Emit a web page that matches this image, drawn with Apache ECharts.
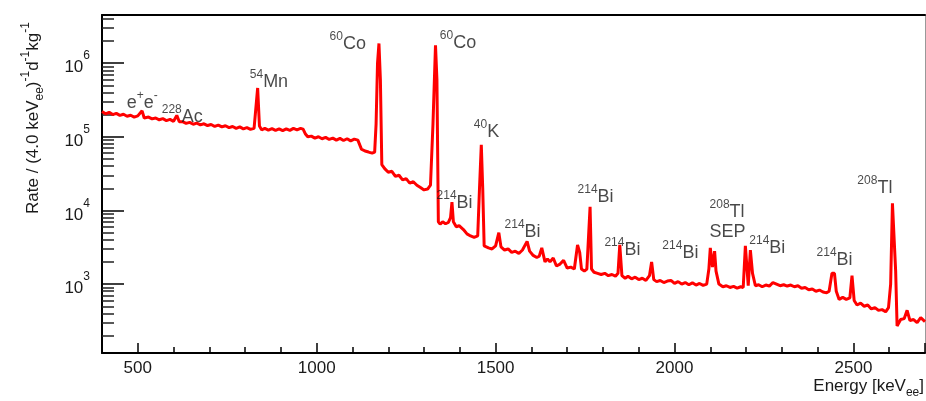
<!DOCTYPE html>
<html>
<head>
<meta charset="utf-8">
<script src="https://cdn.jsdelivr.net/npm/echarts@6/dist/echarts.min.js"></script>
<style>
  body { margin: 0; }
  #wrap { position: relative; width: 926px; height: 401px; }
  #frame, #plot, #text { position: absolute; left: 0; top: 0; width: 926px; height: 401px; }
</style>
</head>
<body>
<div id="wrap"><div id="frame"></div><div id="plot"></div><div id="text"></div></div>
<script>
// spectrum, energy in keV_ee, rate per 4 keV bin
var energy = [
  400, 410, 420, 430, 440, 450, 460, 470, 480, 490, 500, 505, 512, 518, 530, 540, 550, 560, 570, 580,
  590, 600, 609, 616, 625, 635, 645, 655, 665, 675, 685, 695, 705, 715, 725, 735, 745, 755, 765, 775,
  785, 795, 805, 815, 825, 830, 835, 840, 846, 855, 865, 875, 885, 895, 905, 915, 925, 935, 945, 955,
  962, 968, 975, 985, 995, 1005, 1015, 1025, 1035, 1045, 1055, 1065, 1075, 1085, 1095, 1105, 1115, 1120, 1125, 1135,
  1145, 1155, 1162, 1166, 1170, 1174, 1178, 1182, 1190, 1200, 1210, 1220, 1230, 1240, 1250, 1260, 1270, 1280, 1290, 1300,
  1310, 1318, 1325, 1332, 1336, 1340, 1345, 1352, 1360, 1368, 1374, 1378, 1382, 1390, 1398, 1402, 1410, 1420, 1430, 1440,
  1450, 1455, 1460, 1464, 1468, 1480, 1490, 1500, 1509, 1515, 1525, 1535, 1545, 1555, 1565, 1575, 1588, 1595, 1605, 1615,
  1622, 1629, 1638, 1645, 1652, 1661, 1670, 1680, 1690, 1700, 1710, 1720, 1729, 1735, 1740, 1748, 1755, 1760, 1764, 1768,
  1775, 1785, 1795, 1805, 1815, 1825, 1835, 1842, 1847, 1853, 1862, 1870, 1880, 1890, 1900, 1910, 1920, 1930, 1936, 1942,
  1950, 1960, 1970, 1980, 1990, 2000, 2010, 2020, 2030, 2040, 2050, 2060, 2070, 2080, 2090, 2096, 2100, 2106, 2112, 2116,
  2124, 2135, 2145, 2155, 2165, 2175, 2185, 2192, 2198, 2206, 2212, 2218, 2226, 2235, 2245, 2255, 2265, 2275, 2285, 2295,
  2305, 2315, 2325, 2335, 2345, 2355, 2365, 2375, 2385, 2395, 2405, 2415, 2425, 2432, 2440, 2447, 2452, 2460, 2470, 2480,
  2490, 2496, 2502, 2510, 2520, 2530, 2540, 2550, 2560, 2570, 2580, 2590, 2598, 2604, 2609, 2614, 2618, 2622, 2632, 2642,
  2650, 2658, 2668, 2678, 2688, 2700
];
var rate = [
  2.2e5, 2.05e5, 2.15e5, 2.0e5, 2.08e5, 1.95e5, 2.02e5, 1.9e5, 1.96e5, 1.85e5, 1.92e5, 1.85e5, 2.25e5, 1.8e5, 1.85e5, 1.75e5, 1.8e5, 1.7e5, 1.76e5, 1.66e5,
  1.72e5, 1.62e5, 1.95e5, 1.6e5, 1.6e5, 1.52e5, 1.57e5, 1.48e5, 1.53e5, 1.45e5, 1.5e5, 1.42e5, 1.47e5, 1.38e5, 1.44e5, 1.36e5, 1.41e5, 1.33e5, 1.38e5, 1.3e5,
  1.36e5, 1.28e5, 1.33e5, 1.26e5, 1.3e5, 1.35e5, 4.6e5, 1.4e5, 1.24e5, 1.3e5, 1.23e5, 1.29e5, 1.22e5, 1.28e5, 1.21e5, 1.28e5, 1.22e5, 1.3e5, 1.24e5, 1.3e5,
  1.27e5, 1.1e5, 1.0e5, 1.02e5, 9.6e4, 1.0e5, 9.4e4, 9.8e4, 9.2e4, 9.6e4, 9.0e4, 9.5e4, 8.9e4, 9.4e4, 8.8e4, 9.3e4, 9.0e4, 9.4e4, 6.8e4, 6.4e4,
  6.2e4, 6.0e4, 6.2e4, 1.5e5, 1.0e6, 1.85e6, 6.0e5, 4.2e4, 3.7e4, 3.3e4, 3.4e4, 2.9e4, 3.0e4, 2.6e4, 2.7e4, 2.35e4, 2.45e4, 2.2e4, 2.05e4, 1.9e4,
  1.95e4, 2.2e4, 1.5e5, 1.75e6, 6.0e5, 7.0e3, 6.5e3, 7.0e3, 6.6e3, 6.9e3, 8.0e3, 1.3e4, 7.0e3, 6.0e3, 6.2e3, 6.0e3, 5.5e3, 4.8e3, 4.5e3, 4.3e3,
  4.5e3, 2.0e4, 7.8e4, 2.0e4, 3.3e3, 3.1e3, 3.0e3, 3.3e3, 5.0e3, 3.2e3, 2.9e3, 3.0e3, 2.7e3, 2.8e3, 2.6e3, 2.9e3, 3.8e3, 2.8e3, 2.45e3, 2.3e3,
  2.4e3, 3.1e3, 2.0e3, 2.2e3, 2.0e3, 2.26e3, 1.76e3, 1.87e3, 2.1e3, 1.65e3, 1.7e3, 1.6e3, 3.4e3, 2.7e3, 1.6e3, 1.5e3, 1.6e3, 1.7e3, 1.12e4, 1.6e3,
  1.45e3, 1.4e3, 1.35e3, 1.4e3, 1.3e3, 1.35e3, 1.28e3, 1.4e3, 3.4e3, 1.3e3, 1.2e3, 1.28e3, 1.18e3, 1.24e3, 1.15e3, 1.2e3, 1.12e3, 1.3e3, 2.0e3, 1.15e3,
  1.08e3, 1.12e3, 1.05e3, 1.1e3, 1.12e3, 1.02e3, 1.08e3, 1.0e3, 1.05e3, 980, 1.04e3, 970, 1.02e3, 960, 1.0e3, 1.6e3, 3.1e3, 1.7e3, 2.8e3, 1.5e3,
  1.0e3, 920, 950, 900, 930, 880, 920, 900, 3.3e3, 950, 2.9e3, 1.4e3, 950, 980, 920, 970, 940, 1.05e3, 1.0e3, 950,
  980, 940, 970, 920, 950, 880, 900, 840, 860, 800, 830, 780, 760, 800, 1.4e3, 1.4e3, 800, 620, 660, 620,
  650, 1.3e3, 600, 520, 550, 500, 520, 460, 480, 440, 450, 420, 480, 1.0e3, 1.25e4, 1.2e4, 1.5e3, 270, 330, 340,
  440, 320, 330, 300, 350, 310
];

// peak annotations: mass number, label text, anchor (left, middle) in data units
var labelMass = ['', '228', '54', '60', '60', '40', '214', '214', '214', '214', '214', '208', '', '214', '214', '208'];
var labelText = ['e+e-', 'Ac', 'Mn', 'Co', 'Co', 'K', 'Bi', 'Bi', 'Bi', 'Bi', 'Bi', 'Tl', 'SEP', 'Bi', 'Bi', 'Tl'];
var labelE = [469, 567, 813, 1036, 1344, 1439, 1335, 1525, 1729, 1804, 1966, 2098, 2098, 2209, 2397, 2511];
var labelRate = [2.9e5, 1.87e5, 5.6e5, 1.84e6, 1.9e6, 1.17e5, 1.26e4, 5.1e3, 1.53e4, 2.9e3, 2.64e3, 9.5e3, 5.1e3, 3.09e3, 2.12e3, 2.02e4];

var xMin = 400, xMax = 2700;
var yMin = 116, yMax = 4.5e6;

var FONT = 'Liberation Sans';
var TXT = '#1a1a1a';
var GRID = {left: 102, right: 1, top: 15, bottom: 48};

var spectrum = energy.map(function (e, i) { return [e, rate[i]]; });

function labelRich(mass, text) {
    if (text === 'e+e-') return '{base|e}{sup|+}{base|e}{sup|-}';
    if (!mass) return '{base|' + text + '}';
    return '{sup|' + mass + '}{base|' + text + '}';
}

var labelData = labelText.map(function (t, k) {
    return {value: [labelE[k], labelRate[k]], label: {formatter: labelRich(labelMass[k], t)}};
});

// hidden axes shared by the upper layers
function bareX() {
    return {type: 'value', min: xMin, max: xMax, axisLine: {show: false}, axisTick: {show: false},
            axisLabel: {show: false}, splitLine: {show: false}};
}
function bareY() {
    return {type: 'log', logBase: 10, min: yMin, max: yMax, axisLine: {show: false}, axisTick: {show: false},
            axisLabel: {show: false}, splitLine: {show: false}};
}

// layer 1: frame and ticks only
var frameChart = echarts.init(document.getElementById('frame'));
frameChart.setOption({
    animation: false,
    backgroundColor: '#fff',
    grid: GRID,
    xAxis: [
        {
            type: 'value', min: xMin, max: xMax,
            axisLine: {show: true, lineStyle: {color: '#000', width: 2}},
            axisTick: {show: true, inside: true, length: 10, lineStyle: {color: '#000', width: 1.5}},
            minorTick: {show: true, splitNumber: 5, length: 6, lineStyle: {color: '#000', width: 1.5}},
            axisLabel: {show: false}, splitLine: {show: false}
        },
        {
            type: 'value', position: 'top', min: xMin, max: xMax,
            axisLine: {show: true, lineStyle: {color: '#000', width: 2}},
            axisTick: {show: false}, axisLabel: {show: false}, splitLine: {show: false}
        }
    ],
    yAxis: [
        {
            type: 'log', logBase: 10, min: yMin, max: yMax,
            axisLine: {show: true, lineStyle: {color: '#000', width: 2}},
            axisTick: {show: true, inside: true, length: 22, lineStyle: {color: '#000', width: 1.5}},
            minorTick: {show: true, splitNumber: 9, length: 12, lineStyle: {color: '#222', width: 1.5}},
            axisLabel: {show: false}, splitLine: {show: false}
        },
        {
            type: 'value', position: 'right', min: 0, max: 1,
            axisLine: {show: true, lineStyle: {color: '#999', width: 1}},
            axisTick: {show: false}, axisLabel: {show: false}, splitLine: {show: false}
        }
    ],
    series: []
});

// layer 2: the spectrum
var plotChart = echarts.init(document.getElementById('plot'));
plotChart.setOption({
    animation: false,
    grid: GRID,
    xAxis: bareX(),
    yAxis: bareY(),
    series: [
        {
            type: 'line', data: spectrum, showSymbol: false, symbol: 'none',
            lineStyle: {color: '#ff0000', width: 3}
        }
    ]
});

// layer 3: tick labels, peak labels and titles on the same scales
var textChart = echarts.init(document.getElementById('text'));
textChart.setOption({
    animation: false,
    grid: GRID,
    xAxis: {
        type: 'value', min: xMin, max: xMax,
        axisLine: {show: false}, axisTick: {show: false}, splitLine: {show: false},
        axisLabel: {
            margin: 7, fontSize: 17, fontFamily: FONT, color: TXT,
            showMinLabel: false, showMaxLabel: false,
            formatter: function (x) { return String(x); }
        }
    },
    yAxis: {
        type: 'log', logBase: 10, min: yMin, max: yMax,
        axisLine: {show: false}, axisTick: {show: false}, splitLine: {show: false},
        axisLabel: {
            margin: 12, showMinLabel: false, showMaxLabel: false,
            formatter: function (x) { return '{b|10}{s|' + Math.round(Math.log(x) / Math.LN10) + '}'; },
            rich: {
                b: {fontSize: 17, fontFamily: FONT, color: TXT, lineHeight: 26, verticalAlign: 'bottom'},
                s: {fontSize: 12, fontFamily: FONT, color: TXT, verticalAlign: 'top'}
            }
        }
    },
    series: [
        {
            type: 'scatter', data: labelData, symbolSize: 0, silent: true,
            label: {
                show: true, position: 'right', distance: 0,
                rich: {
                    base: {fontSize: 18, fontFamily: FONT, color: TXT, lineHeight: 26, verticalAlign: 'middle'},
                    sup: {fontSize: 12, fontFamily: FONT, color: TXT, verticalAlign: 'top'}
                }
            }
        }
    ],
    graphic: [
        {
            type: 'text', x: 33, y: 118, rotation: Math.PI / 2,
            style: {
                text: '{t|Rate / (4.0 keV}{sb|ee}{t|)}{sp|-1}{t|d}{sp|-1}{t|kg}{sp|-1}',
                align: 'center', verticalAlign: 'middle',
                rich: {
                    t: {fontSize: 17, fontFamily: FONT, fill: TXT, lineHeight: 26, verticalAlign: 'middle'},
                    sb: {fontSize: 12, fontFamily: FONT, fill: TXT, verticalAlign: 'bottom'},
                    sp: {fontSize: 12, fontFamily: FONT, fill: TXT, verticalAlign: 'top'}
                }
            }
        },
        {
            type: 'text', x: 924, y: 386,
            style: {
                text: '{t|Energy [keV}{sb|ee}{t|]}',
                align: 'right', verticalAlign: 'middle',
                rich: {
                    t: {fontSize: 17, fontFamily: FONT, fill: TXT, lineHeight: 26, verticalAlign: 'middle'},
                    sb: {fontSize: 12, fontFamily: FONT, fill: TXT, verticalAlign: 'bottom'}
                }
            }
        }
    ]
});
</script>
</body>
</html>
